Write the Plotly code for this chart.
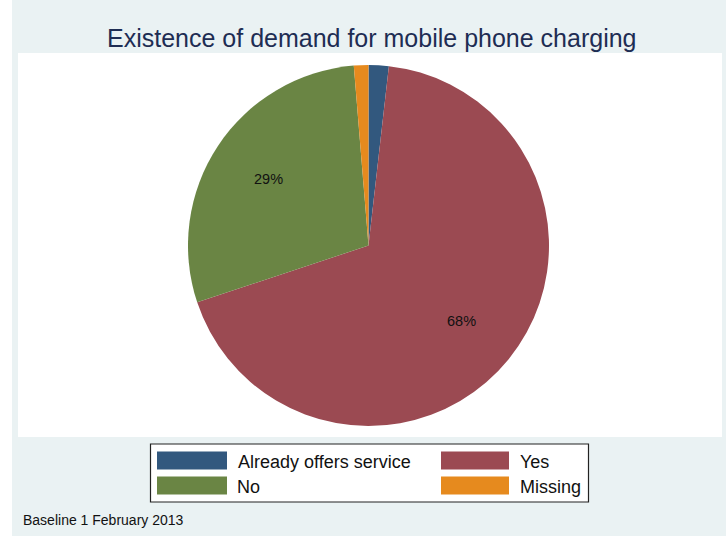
import math
import plotly.graph_objects as go

# Share of respondents by answer
categories = ["Already offers service", "Yes", "No", "Missing"]
shares = [1.8, 68.1, 28.8, 1.3]
slice_colors = ["#32587E", "#9B4A52", "#6A8544", "#E68A1E"]
# percentage labels are shown only on the two large slices
show_label = [False, True, True, False]

title_text = "Existence of demand for mobile phone charging"
note_text = "Baseline 1 February 2013"

W, H = 726, 536

# pie geometry in pixels
PIE_CX, PIE_CY, PIE_R = 368.5, 245.5, 180.5
LABEL_RADIUS = 0.665


def px(x):
    return x / W


def py(y):
    return 1 - y / H


fig = go.Figure(
    go.Pie(
        labels=categories,
        values=shares,
        sort=False,
        direction="clockwise",
        rotation=0,
        marker=dict(colors=slice_colors, line=dict(width=0)),
        textinfo="none",
        domain=dict(x=[px(PIE_CX - PIE_R), px(PIE_CX + PIE_R)],
                    y=[py(PIE_CY + PIE_R), py(PIE_CY - PIE_R)]),
        showlegend=False,
        hoverinfo="label+percent",
    )
)

shapes = [
    # white strip at the left page edge
    dict(type="rect", xref="paper", yref="paper", x0=0, x1=px(12), y0=0, y1=1,
         fillcolor="white", line=dict(width=0), layer="below"),
    # white plot region
    dict(type="rect", xref="paper", yref="paper", x0=px(18), x1=px(722),
         y0=py(437), y1=py(53), fillcolor="white", line=dict(width=0), layer="below"),
    # legend frame
    dict(type="rect", xref="paper", yref="paper", x0=px(150.5), x1=px(588.5),
         y0=py(502), y1=py(444), fillcolor="white",
         line=dict(color="#222222", width=1.2), layer="below"),
]

annotations = [
    dict(text=title_text, x=px(372), y=py(38), xref="paper", yref="paper",
         showarrow=False, xanchor="center", yanchor="middle",
         font=dict(family="Liberation Sans, Arial", size=25, color="#1E2D53")),
    dict(text=note_text, x=px(21), y=py(520), xref="paper", yref="paper",
         showarrow=False, xanchor="left", yanchor="middle",
         font=dict(family="Liberation Sans, Arial", size=14, color="#111111")),
]

# percentage labels placed at the middle angle of each slice
total = sum(shares)
cum = 0.0
for share, show in zip(shares, show_label):
    mid = (cum + share / 2) / total * 2 * math.pi
    cum += share
    if not show:
        continue
    lx = PIE_CX + LABEL_RADIUS * PIE_R * math.sin(mid)
    ly = PIE_CY - LABEL_RADIUS * PIE_R * math.cos(mid)
    annotations.append(dict(text=f"{round(share / total * 100)}%",
                            x=px(lx), y=py(ly), xref="paper", yref="paper",
                            showarrow=False, xanchor="center", yanchor="middle",
                            font=dict(family="Liberation Sans, Arial", size=14.5,
                                      color="#111111")))

# two-column legend: swatch + label per category
col_swatch_x = [(157, 227), (441, 509)]
col_text_x = [235.5, 517.5]
row_y = [460.5, 485.5]
for i, (name, color) in enumerate(zip(categories, slice_colors)):
    r, c = divmod(i, 2)
    x0, x1 = col_swatch_x[c]
    yc = row_y[r]
    shapes.append(dict(type="rect", xref="paper", yref="paper",
                       x0=px(x0), x1=px(x1), y0=py(yc + 9), y1=py(yc - 9),
                       fillcolor=color, line=dict(width=0)))
    annotations.append(dict(text=name, x=px(col_text_x[c]), y=py(yc + 1),
                            xref="paper", yref="paper", showarrow=False,
                            xanchor="left", yanchor="middle",
                            font=dict(family="Liberation Sans, Arial", size=18,
                                      color="#111111")))

fig.update_layout(
    width=W,
    height=H,
    margin=dict(l=0, r=0, t=0, b=0),
    paper_bgcolor="#EAF2F3",
    plot_bgcolor="#EAF2F3",
    shapes=shapes,
    annotations=annotations,
)

fig.write_html("out.html")
